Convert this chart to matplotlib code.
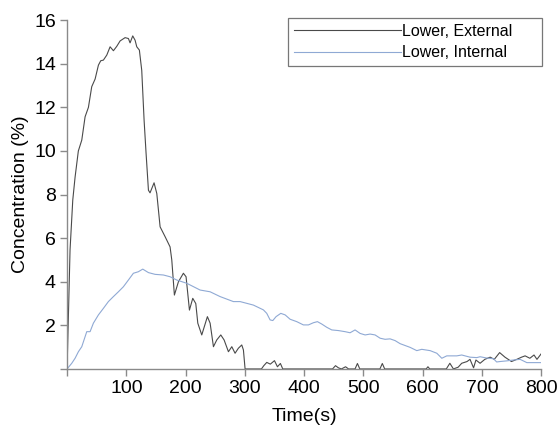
import numpy as np
import matplotlib.pyplot as plt

plt.rcParams['font.family'] = ['Liberation Sans', 'DejaVu Sans']

# Lower, External (time s, concentration %)
t_ext = [0, 2.2, 5, 9.6, 13.5, 19, 24.8, 30.4, 36, 41.6, 47.3, 52.9, 56.8, 61.3, 67,
         72.6, 78.2, 83.8, 89.5, 97.9, 103.5, 106.3, 110.8, 114.8, 117.6, 122, 126,
         130, 133.3, 137.3, 140, 146.8, 151.4, 157, 165.4, 173.8, 176.7, 181.1, 187.9,
         196.3, 200.8, 206.5, 212.1, 217.2, 220.6, 227.3, 236.8, 241.4, 247, 252.6,
         259.4, 265, 272.3, 278, 283.5, 289.1, 294.8, 297.6, 300.4, 328, 332, 337,
         343, 350, 355, 360, 364, 448, 453, 458, 463, 470, 475, 486, 490, 494,
         528, 532, 536, 606, 609, 612, 640, 646, 652, 660, 666, 675, 680, 686, 690,
         697, 705, 714, 721, 730, 739, 750, 759, 767, 773, 781, 788, 793, 800]
c_ext = [0.03, 2.4, 5.46, 7.75, 8.8, 10.0, 10.5, 11.57, 12.0, 12.95, 13.3, 13.94, 14.14,
         14.17, 14.4, 14.78, 14.6, 14.8, 15.05, 15.2, 15.16, 14.96, 15.28, 15.08, 14.78,
         14.63, 13.7, 11.4, 9.9, 8.2, 8.08, 8.54, 8.05, 6.52, 6.07, 5.6, 5.0, 3.39, 4.0,
         4.39, 4.23, 2.7, 3.24, 3.0, 2.1, 1.56, 2.4, 2.1, 1.02, 1.33, 1.56, 1.33, 0.79,
         1.02, 0.72, 0.95, 1.1, 0.87, 0.0, 0.0, 0.15, 0.3, 0.22, 0.38, 0.1, 0.25, 0.0,
         0.0, 0.15, 0.05, 0.0, 0.1, 0.0, 0.0, 0.25, 0.0, 0.0, 0.25, 0.0, 0.0, 0.1, 0.0,
         0.0, 0.26, 0.0, 0.08, 0.26, 0.34, 0.44, 0.05, 0.41, 0.26, 0.44, 0.54, 0.44,
         0.75, 0.54, 0.34, 0.44, 0.54, 0.6, 0.49, 0.64, 0.44, 0.69]

# Lower, Internal
t_int = [0, 7.9, 13.5, 19.1, 24.8, 30.4, 33.2, 38.8, 44.4, 52.9, 61.3, 69.7, 78.2,
         86.6, 95, 103.5, 111.9, 120.3, 127.7, 137.3, 148.5, 162.6, 173.8, 185.1, 202,
         224.5, 241.4, 258.2, 280.7, 292, 314.4, 331.3, 337, 342.6, 347.2, 352.7, 360.7,
         368, 376.4, 387.6, 398.8, 407.3, 415.7, 422.5, 429.8, 438.3, 446.7, 458, 469.2,
         477.6, 486, 494.5, 503, 511.4, 519.8, 528.3, 536.7, 545.1, 553.6, 562, 578.9,
         590.2, 598.6, 612.7, 624, 632.4, 640.8, 657.7, 666, 680, 691.5, 697, 708.4,
         719.6, 725, 730.8, 742, 753.3, 764.6, 775.9, 787, 800]
c_int = [0, 0.26, 0.49, 0.79, 1.02, 1.48, 1.71, 1.71, 2.1, 2.48, 2.78, 3.09, 3.32, 3.54,
         3.77, 4.08, 4.39, 4.46, 4.58, 4.42, 4.34, 4.31, 4.23, 4.08, 3.93, 3.62, 3.54,
         3.32, 3.09, 3.09, 2.93, 2.71, 2.55, 2.25, 2.22, 2.40, 2.55, 2.48, 2.28, 2.17,
         2.02, 2.02, 2.12, 2.17, 2.06, 1.91, 1.79, 1.76, 1.71, 1.66, 1.79, 1.63, 1.56,
         1.6, 1.56, 1.41, 1.36, 1.38, 1.30, 1.16, 0.99, 0.84, 0.90, 0.84, 0.72, 0.49,
         0.60, 0.60, 0.64, 0.54, 0.52, 0.56, 0.50, 0.47, 0.32, 0.34, 0.37, 0.41, 0.44,
         0.29, 0.29, 0.29]

xticks = [0, 100, 200, 300, 400, 500, 600, 700, 800]
yticks = [0, 2, 4, 6, 8, 10, 12, 14, 16]

fig = plt.figure(figsize=(5.59, 4.30), dpi=100)
ax = fig.add_axes([0.12, 0.142, 0.848, 0.811])

ax.plot(t_ext, c_ext, color='#4a4a4a', lw=0.8, label='Lower, External')
ax.plot(t_int, c_int, color='#8fa9d4', lw=0.8, label='Lower, Internal')

ax.set_xlim(0, 800)
ax.set_ylim(0, 16)
ax.set_xticks(xticks)
ax.set_xticklabels(['' if v == 0 else str(v) for v in xticks])
ax.set_yticks(yticks)
ax.set_yticklabels(['' if v == 0 else str(v) for v in yticks])

for s in ['top', 'right']:
    ax.spines[s].set_visible(False)
for s in ['left', 'bottom']:
    ax.spines[s].set_color('#8a8a8a')
    ax.spines[s].set_linewidth(1.0)
ax.tick_params(direction='out', length=5, width=1, color='#8a8a8a',
               labelsize=14, pad=3)

ax.set_xlabel('Time(s)', fontsize=14, labelpad=8)
ax.set_ylabel('Concentration (%)', fontsize=14, labelpad=4)

# legend box stretched to the width seen in the picture
leg = ax.legend(loc='upper left', bbox_to_anchor=(0.466, 0.871, 0.536, 0.135),
                mode='expand', fontsize=11.5, handlelength=6.7, handletextpad=0.1,
                frameon=True, fancybox=False, borderpad=0.35, labelspacing=0.42,
                borderaxespad=0.0)
leg.get_frame().set_edgecolor('#555555')
leg.get_frame().set_linewidth(0.9)

fig.savefig('out.png', dpi=100)
